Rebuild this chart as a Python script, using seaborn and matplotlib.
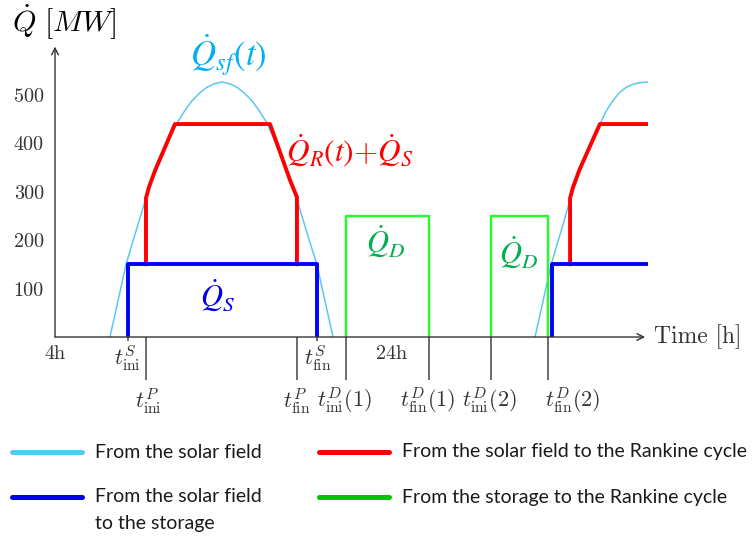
import matplotlib
matplotlib.use("Agg")
import matplotlib.pyplot as plt
import seaborn as sns
from matplotlib.lines import Line2D

# solar field heat, first and second day
sf_time_1 = [7.26, 7.74, 8.21, 8.80, 9.40, 9.87, 10.35, 10.80, 11.24, 11.71, 12.13,
             12.61, 13.02, 13.44, 13.91, 14.38, 14.80, 15.21, 15.69, 16.11, 16.58,
             17.05, 17.53, 17.98, 18.42, 19.00, 19.55, 20.02, 20.50]
sf_q_1 = [0, 75, 149, 218, 287, 332, 372, 410, 442, 468, 488,
          505, 516, 523, 527, 523, 516, 505, 488, 468, 442,
          404, 362, 320, 277, 210, 149, 75, 0]
sf_time_2 = [32.49, 32.97, 33.44, 34.03, 34.60, 35.05, 35.50, 35.95, 36.34, 36.70,
             37.10, 37.53, 37.95, 38.40, 38.85, 39.20]
sf_q_2 = [0, 75, 149, 218, 287, 332, 372, 410, 440, 466,
          488, 506, 517, 523, 526, 527]

# solar field -> Rankine cycle (+ storage)
r_time_1 = [9.40, 9.40, 9.58, 9.95, 11.12, 16.76, 17.95, 18.36, 18.36]
r_q_1 = [150, 287, 310, 345, 440, 440, 324, 289, 150]
r_time_2 = [34.57, 34.57, 34.75, 35.12, 36.34, 39.20]
r_q_2 = [150, 287, 310, 345, 440, 440]

# solar field -> storage
s_time_1 = [8.31, 8.31, 19.53, 19.53]
s_q_1 = [0, 150, 150, 0]
s_time_2 = [33.48, 33.48, 39.20]
s_q_2 = [0, 150, 150]

# storage -> Rankine cycle
d_time_1 = [21.27, 21.27, 26.20, 26.20]
d_q_1 = [0, 250, 250, 0]
d_time_2 = [29.90, 29.90, 33.25, 33.25]
d_q_2 = [0, 250, 250, 0]

y_ticks = [100, 200, 300, 400, 500]
x_ticks = [4, 24]
x_tick_labels = ["4h", "24h"]

# event times marked under the axis
long_marks = [9.40, 18.36, 21.27, 26.20, 29.90, 33.25]
short_marks = [8.31, 19.53]
upper_labels = [r"$t^S_{\rm ini}$", r"$t^S_{\rm fin}$"]
upper_pos = [8.27, 19.6]
lower_labels = [r"$t^P_{\rm ini}$", r"$t^P_{\rm fin}$", r"$t^D_{\rm ini}(1)$",
                r"$t^D_{\rm fin}(1)$", r"$t^D_{\rm ini}(2)$", r"$t^D_{\rm fin}(2)$"]
lower_pos = [9.52, 18.36, 21.2, 26.14, 29.8, 34.74]

legend_labels = ["From the solar field", "From the solar field\nto the storage",
                 "From the solar field to the Rankine cycle",
                 "From the storage to the Rankine cycle"]
legend_colors = ["#55C8F8", "#0000E6", "#FF0000", "#00C400"]

# colors
light_blue = "#5BC8F0"
red = "#FF0000"
blue = "#0000FF"
green = "#22FF22"

sns.set_theme(style="white")
plt.rcParams["mathtext.fontset"] = "cm"
plt.rcParams["font.family"] = ["cmr10", "DejaVu Sans"]
plt.rcParams["axes.formatter.use_mathtext"] = True

fig = plt.figure(figsize=(7.56, 5.4), dpi=100)
ax = fig.add_axes([0.07275, 0.3759, 0.7845, 0.5378])

# lines
sns.lineplot(x=sf_time_1, y=sf_q_1, sort=False, estimator=None, color=light_blue, lw=1.1, ax=ax)
sns.lineplot(x=sf_time_2, y=sf_q_2, sort=False, estimator=None, color=light_blue, lw=1.1, ax=ax)
sns.lineplot(x=d_time_1, y=d_q_1, sort=False, estimator=None, color=green, lw=1.7, ax=ax)
sns.lineplot(x=d_time_2, y=d_q_2, sort=False, estimator=None, color=green, lw=1.7, ax=ax)
sns.lineplot(x=r_time_1, y=r_q_1, sort=False, estimator=None, color=red, lw=2.8, ax=ax)
sns.lineplot(x=r_time_2, y=r_q_2, sort=False, estimator=None, color=red, lw=2.8, ax=ax)
sns.lineplot(x=s_time_1, y=s_q_1, sort=False, estimator=None, color=blue, lw=2.8, ax=ax)
sns.lineplot(x=s_time_2, y=s_q_2, sort=False, estimator=None, color=blue, lw=2.8, ax=ax)

ax.set_xlim(4, 39.2)
ax.set_ylim(0, 600)
for s in ax.spines.values():
    s.set_visible(False)

# axes as arrows
ax.annotate("", xy=(0.995, 0), xytext=(0, 0), xycoords="axes fraction",
            arrowprops=dict(arrowstyle="->", color="#333333", lw=1.0, shrinkA=0, shrinkB=0))
ax.annotate("", xy=(0, 1), xytext=(0, 0), xycoords="axes fraction",
            arrowprops=dict(arrowstyle="->", color="#333333", lw=1.0, shrinkA=0, shrinkB=0))

ax.set_yticks(y_ticks)
ax.set_yticklabels([str(v) for v in y_ticks], fontsize=14.5, color="#333333")
ax.set_xticks(x_ticks)
ax.set_xticklabels(x_tick_labels, fontsize=14.5, color="#333333")
ax.tick_params(axis="both", direction="inout", length=8, width=1, color="#333333", pad=4)
ax.tick_params(axis="x", pad=2)

# event marks under the axis
ax.vlines(long_marks, -89, 0, color="#444444", lw=1.1, clip_on=False)
ax.vlines(short_marks, -9, 0, color="#444444", lw=1.1, clip_on=False)
for lab, xp in zip(upper_labels, upper_pos):
    ax.text(xp, -45, lab, ha="center", va="center", fontsize=16, color="#333333")
for lab, xp in zip(lower_labels, lower_pos):
    ax.text(xp, -133, lab, ha="center", va="center", fontsize=16, color="#333333")

ax.text(1.01, 0, "Time [h]", transform=ax.transAxes, ha="left", va="center",
        fontsize=17, color="#333333")
fig.text(12 / 756, 1 - 22 / 540, r"$\dot{Q}\ [MW]$", ha="left", va="center",
         fontsize=21.5, color="black")

# curve labels
ax.text(14.27, 582, r"$\dot{Q}_{sf}(t)$", color="#00B0F0", fontsize=25,
        ha="center", va="center", math_fontfamily="stix")
ax.text(21.5, 386, r"$\dot{Q}_R(t)$+$\dot{Q}_S$", color=red, fontsize=22.5,
        ha="center", va="center", math_fontfamily="stix")
ax.text(23.64, 196, r"$\dot{Q}_D$", color="#00B050", fontsize=22,
        ha="center", va="center", math_fontfamily="stix")
ax.text(31.54, 174, r"$\dot{Q}_D$", color="#00B050", fontsize=22,
        ha="center", va="center", math_fontfamily="stix")
ax.text(13.67, 84, r"$\dot{Q}_S$", color="#0000E6", fontsize=22,
        ha="center", va="center", math_fontfamily="stix")

# legend drawn by hand (two columns)
key_x = [(12, 82), (12, 82), (319, 389), (319, 389)]
key_y = [452, 497, 452, 497]
for (x0, x1), yk, lab, col in zip(key_x, key_y, legend_labels, legend_colors):
    fig.add_artist(Line2D([x0 / 756, x1 / 756], [1 - yk / 540, 1 - yk / 540],
                          color=col, lw=3.6, transform=fig.transFigure))
    fig.text((x1 + 13) / 756, 1 - (yk - 8.5) / 540, lab, ha="left", va="top",
             fontsize=14, family="Lato", color="#1a1a1a", linespacing=1.7)

fig.savefig("out.png", dpi=100)
